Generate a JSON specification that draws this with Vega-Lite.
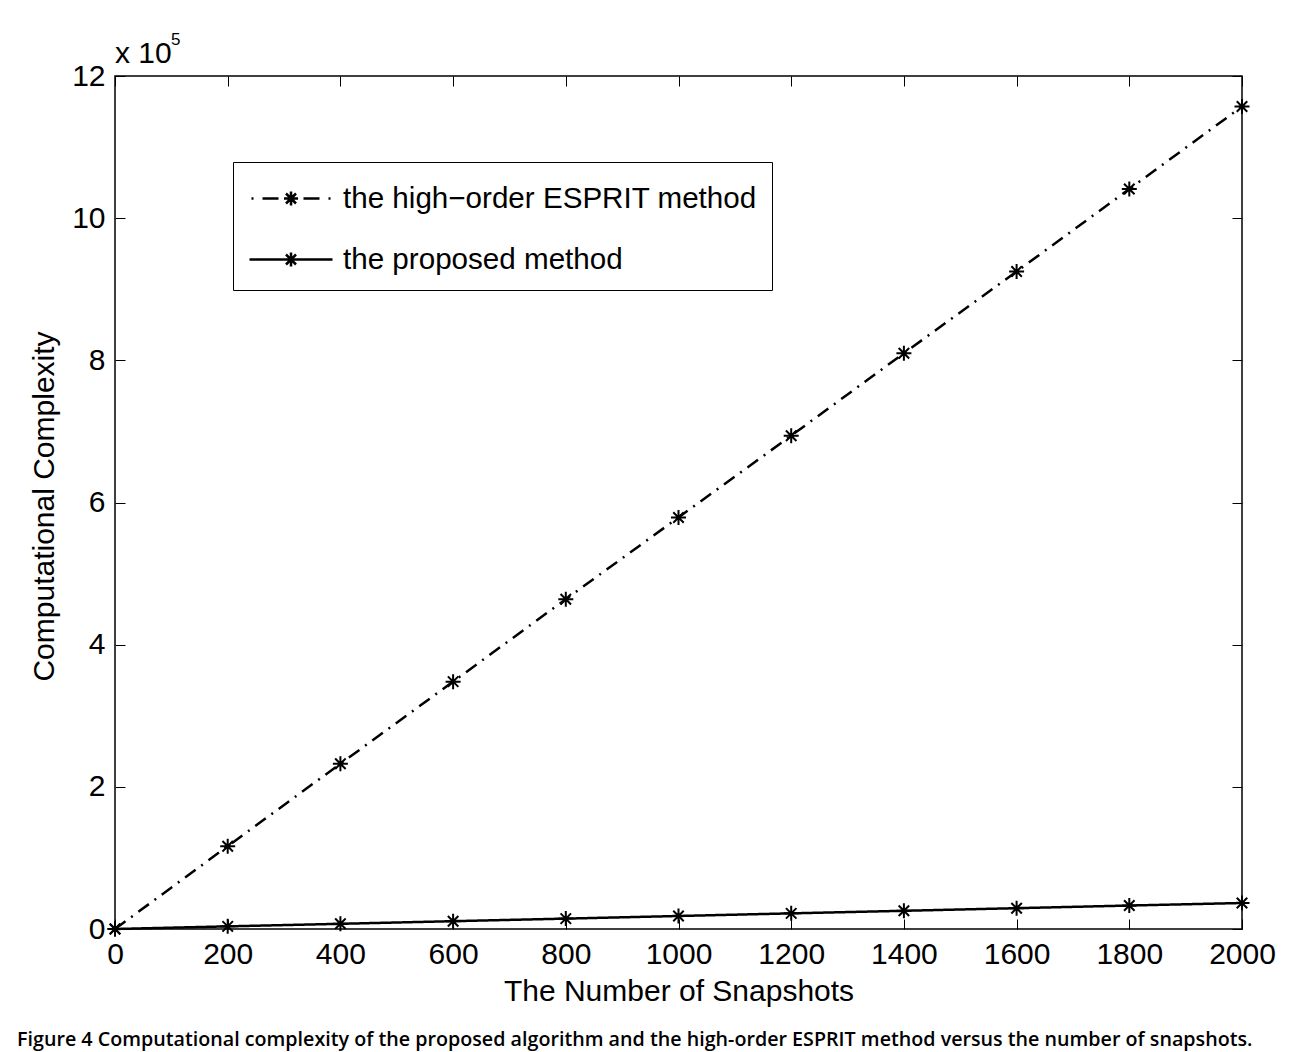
{
  "$schema": "https://vega.github.io/schema/vega-lite/v6.json",
  "width": 1127,
  "height": 853,
  "autosize": "none",
  "padding": {"left": 115, "top": 76, "right": 51, "bottom": 123},
  "background": "white",
  "config": {
    "font": "Liberation Sans",
    "view": {"stroke": "black", "strokeWidth": 1.5},
    "axis": {
      "grid": false,
      "domain": false,
      "tickColor": "black",
      "tickWidth": 1,
      "tickSize": -10,
      "labelColor": "black",
      "labelFont": "Liberation Sans",
      "labelFontSize": 30,
      "titleColor": "black",
      "titleFont": "Liberation Sans",
      "titleFontSize": 30,
      "titleFontWeight": "normal"
    }
  },
  "title": {
    "text": "Figure 4 Computational complexity of the proposed algorithm and the high-order ESPRIT method versus the number of snapshots.",
    "orient": "bottom",
    "anchor": "start",
    "frame": "group",
    "dx": -98,
    "offset": 24,
    "font": "Open Sans",
    "fontSize": 19.7,
    "fontWeight": 600,
    "color": "black"
  },
  "datasets": {
    "series": [
      {"n": 0, "c": 0, "method": "the high−order ESPRIT method"},
      {"n": 200, "c": 116500, "method": "the high−order ESPRIT method"},
      {"n": 400, "c": 232500, "method": "the high−order ESPRIT method"},
      {"n": 600, "c": 348000, "method": "the high−order ESPRIT method"},
      {"n": 800, "c": 464000, "method": "the high−order ESPRIT method"},
      {"n": 1000, "c": 579000, "method": "the high−order ESPRIT method"},
      {"n": 1200, "c": 694000, "method": "the high−order ESPRIT method"},
      {"n": 1400, "c": 810000, "method": "the high−order ESPRIT method"},
      {"n": 1600, "c": 925000, "method": "the high−order ESPRIT method"},
      {"n": 1800, "c": 1041000, "method": "the high−order ESPRIT method"},
      {"n": 2000, "c": 1157000, "method": "the high−order ESPRIT method"},
      {"n": 0, "c": 0, "method": "the proposed method"},
      {"n": 200, "c": 3700, "method": "the proposed method"},
      {"n": 400, "c": 7300, "method": "the proposed method"},
      {"n": 600, "c": 11000, "method": "the proposed method"},
      {"n": 800, "c": 14600, "method": "the proposed method"},
      {"n": 1000, "c": 18300, "method": "the proposed method"},
      {"n": 1200, "c": 22000, "method": "the proposed method"},
      {"n": 1400, "c": 25600, "method": "the proposed method"},
      {"n": 1600, "c": 29300, "method": "the proposed method"},
      {"n": 1800, "c": 33000, "method": "the proposed method"},
      {"n": 2000, "c": 36600, "method": "the proposed method"}
    ],
    "mantissa": [{"t": "x 10"}],
    "power": [{"t": "5"}]
  },
  "layer": [
    {
      "data": {"name": "series"},
      "mark": {"type": "line", "color": "black", "strokeWidth": 2.5},
      "encoding": {
        "x": {
          "field": "n", "type": "quantitative",
          "scale": {"domain": [0, 2000], "nice": false, "zero": false},
          "axis": {
            "orient": "bottom",
            "values": [0, 200, 400, 600, 800, 1000, 1200, 1400, 1600, 1800, 2000],
            "format": "d",
            "labelPadding": 44,
            "labelBaseline": "alphabetic",
            "labelFlush": false,
            "title": "The Number of Snapshots",
            "titleY": 71,
            "titleBaseline": "alphabetic"
          }
        },
        "y": {
          "field": "c", "type": "quantitative",
          "scale": {"domain": [0, 1200000], "nice": false},
          "axis": {
            "orient": "left",
            "values": [0, 200000, 400000, 600000, 800000, 1000000, 1200000],
            "labelExpr": "format(datum.value / 100000, 'd')",
            "labelPadding": 20,
            "labelFlush": false,
            "title": "Computational Complexity",
            "titleX": -62,
            "titleY": 430,
            "titleBaseline": "alphabetic",
            "titleAnchor": "start",
            "titleAlign": "center",
            "titleAngle": -90
          }
        },
        "strokeDash": {
          "field": "method", "type": "nominal",
          "scale": {
            "domain": ["the proposed method", "the high−order ESPRIT method"],
            "range": [[1, 0], [13, 7, 2, 7]]
          },
          "legend": null
        }
      }
    },
    {
      "data": {"name": "series"},
      "mark": {
        "type": "point",
        "shape": "M-1,0H1M0,-1V1M-0.7,-0.7L0.7,0.7M-0.7,0.7L0.7,-0.7",
        "size": 225,
        "filled": false,
        "stroke": "black",
        "strokeWidth": 2,
        "opacity": 1
      },
      "encoding": {
        "x": {
          "field": "n", "type": "quantitative",
          "axis": {
            "orient": "top",
            "values": [0, 200, 400, 600, 800, 1000, 1200, 1400, 1600, 1800, 2000],
            "labels": false,
            "title": null
          }
        },
        "y": {
          "field": "c", "type": "quantitative",
          "axis": {
            "orient": "right",
            "values": [0, 200000, 400000, 600000, 800000, 1000000, 1200000],
            "labels": false,
            "title": null
          }
        },
        "detail": {"field": "method", "type": "nominal"}
      }
    },
    {
      "data": {"name": "series"},
      "mark": {"type": "point", "filled": false, "stroke": "black", "strokeWidth": 2.5, "opacity": 0},
      "encoding": {
        "x": {"field": "n", "type": "quantitative", "axis": null},
        "y": {"field": "c", "type": "quantitative", "axis": null},
        "shape": {
          "field": "method", "type": "nominal",
          "scale": {
            "domain": ["the high−order ESPRIT method", "the proposed method"],
            "range": [
              "M-0.9,0H-0.8M-0.35,0H0.45M1.7,0H2.5M2.95,0H3.05M0.725,0H1.425M1.075,-0.35V0.35M0.825,-0.25L1.325,0.25M0.825,0.25L1.325,-0.25",
              "M-1,0H3.15M1.075,-0.35V0.35M0.825,-0.25L1.325,0.25M0.825,0.25L1.325,-0.25"
            ]
          },
          "legend": {
            "title": null,
            "orient": "none",
            "legendX": 118,
            "legendY": 86,
            "direction": "vertical",
            "symbolSize": 1600,
            "symbolStrokeColor": "black",
            "symbolStrokeWidth": 2.5,
            "symbolFillColor": "transparent",
            "symbolOpacity": 1,
            "labelFont": "Liberation Sans",
            "labelFontSize": 29.6,
            "labelColor": "black",
            "labelOffset": 52,
            "labelLimit": 1000,
            "padding": 15,
            "rowPadding": 24,
            "strokeColor": "black",
            "fillColor": "white"
          }
        }
      }
    },
    {
      "data": {"name": "mantissa"},
      "mark": {"type": "text", "align": "left", "baseline": "alphabetic", "fontSize": 30, "font": "Liberation Sans", "color": "black", "dx": 0, "dy": -13},
      "encoding": {
        "x": {"datum": 0, "type": "quantitative", "axis": null},
        "y": {"datum": 1200000, "type": "quantitative", "axis": null},
        "text": {"field": "t"}
      }
    },
    {
      "data": {"name": "power"},
      "mark": {"type": "text", "align": "left", "baseline": "alphabetic", "fontSize": 17, "font": "Liberation Sans", "color": "black", "dx": 56, "dy": -31},
      "encoding": {
        "x": {"datum": 0, "type": "quantitative", "axis": null},
        "y": {"datum": 1200000, "type": "quantitative", "axis": null},
        "text": {"field": "t"}
      }
    }
  ]
}
